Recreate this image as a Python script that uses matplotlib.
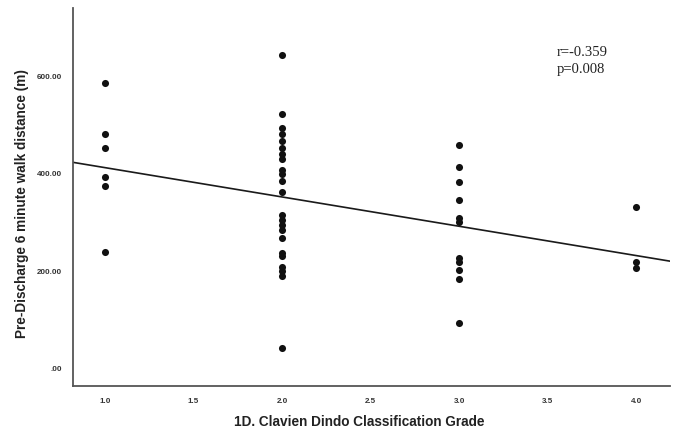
import numpy as np
import matplotlib
matplotlib.use("Agg")
import matplotlib.pyplot as plt

# Data
grade_1 = [586, 481, 453, 394, 376, 239]
grade_2 = [644, 523, 495, 481, 467, 454, 440, 430, 409, 399, 385, 363,
           316, 306, 296, 286, 269, 238, 231, 210, 200, 190, 43]
grade_3 = [459, 415, 384, 347, 310, 302, 228, 220, 202, 184, 94]
grade_4 = [332, 220, 208]
grades = [1.0, 2.0, 3.0, 4.0]
groups = [grade_1, grade_2, grade_3, grade_4]

x_ticks = [1.0, 1.5, 2.0, 2.5, 3.0, 3.5, 4.0]
x_tick_labels = ["1.0", "1.5", "2.0", "2.5", "3.0", "3.5", "4.0"]
y_ticks = [0, 200, 400, 600]
y_tick_labels = [".00", "200.00", "400.00", "600.00"]
stats_text = "r=-0.359\np=0.008"

xs = np.concatenate([[g] * len(v) for g, v in zip(grades, groups)])
ys = np.concatenate([np.array(v, dtype=float) for v in groups])

fig = plt.figure(figsize=(6.77, 4.32), dpi=100)
ax = fig.add_axes([0.1078, 0.1065, 0.882, 0.8745])

xlim = (0.82, 4.19)
ylim = (-35, 740)
ax.set_xlim(*xlim)
ax.set_ylim(*ylim)

ax.scatter(xs, ys, s=26, color="#111111", zorder=3, linewidths=0)

slope, intercept = np.polyfit(xs, ys, 1)
lx = np.array(xlim)
ax.plot(lx, intercept + slope * lx, color="#1a1a1a", lw=1.2, zorder=2)

for side in ["top", "right"]:
    ax.spines[side].set_visible(False)
for side in ["left", "bottom"]:
    ax.spines[side].set_color("#555555")
    ax.spines[side].set_linewidth(1.3)

ax.set_xticks(x_ticks)
ax.set_xticklabels(x_tick_labels, fontfamily="Liberation Sans", fontsize=5.8,
                   fontweight="bold", color="#333333")
ax.set_yticks(y_ticks)
ax.set_yticklabels(y_tick_labels, fontfamily="Liberation Sans", fontsize=5.8,
                   fontweight="bold", color="#333333")
ax.tick_params(axis="both", length=0)
ax.tick_params(axis="x", pad=9)
ax.tick_params(axis="y", pad=8)

ax.set_xlabel("1D. Clavien Dindo Classification Grade", fontfamily="Liberation Sans",
              fontsize=9.8, fontweight="bold", color="#222222")
ax.xaxis.set_label_coords((359.5 - 73) / 597, (386 - 422) / 378)
ax.xaxis.label.set_verticalalignment("center")

ax.set_ylabel("Pre-Discharge 6 minute walk distance (m)", fontfamily="Liberation Sans",
              fontsize=9.8, fontweight="bold", color="#222222")
ax.yaxis.set_label_coords((22 - 73) / 597, 1 - (203 - 8) / 378)
ax.yaxis.label.set_verticalalignment("center")

ax.text((557 - 73) / 597, 1 - (46 - 8) / 378, stats_text, transform=ax.transAxes,
        fontfamily="Liberation Serif", fontsize=10.5, color="#222222",
        va="top", ha="left", linespacing=1.4)

fig.savefig("out.png", dpi=100)
